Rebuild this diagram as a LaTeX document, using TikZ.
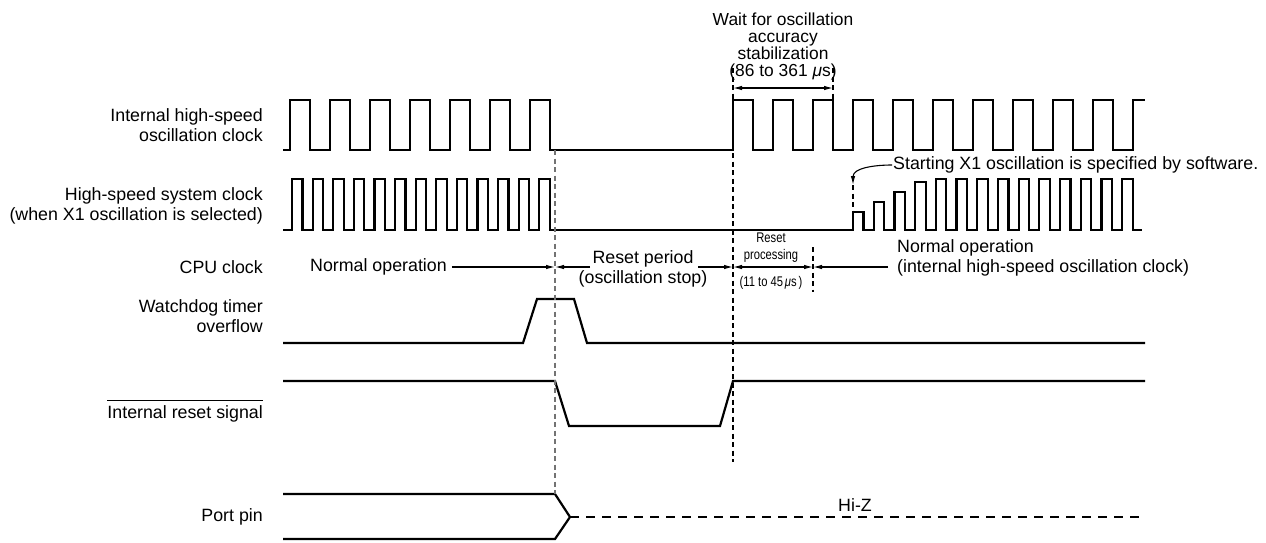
\documentclass[tikz,border=0pt]{standalone}
\usepackage{fontspec}
\setmainfont{Liberation Sans}
\usepackage{graphicx}
\usetikzlibrary{arrows.meta}

\begin{document}
\begin{tikzpicture}[
    x=1pt,
    y=-1pt,
    every node/.style={font=\fontsize{17.8}{20}\selectfont, inner sep=0pt},
    sigl/.style={anchor=east, align=right},
    small/.style={font=\fontsize{14}{17}\selectfont},
    wave/.style={draw=black, line width=2.2pt, line join=miter},
    guide/.style={draw=black, line width=1.2pt, dash pattern=on 5pt off 3.5pt},
    guidegray/.style={guide, draw=black!55},
    span/.style={draw=black, line width=1.1pt},
    tip/.style={-{Latex[length=9pt,width=4.5pt]}},
    twotip/.style={{Latex[length=9pt,width=4.5pt]}-{Latex[length=9pt,width=4.5pt]}}
  ]
    \useasboundingbox (0,0) rectangle (1266,542);

    \node[sigl] (lblint) at (263,125.5) {Internal high-speed\\oscillation clock};
    \node[sigl] (lblsys) at (263,206) {High-speed system clock\\(when X1 oscillation is selected)};
    \node[sigl] (lblcpu) at (263,267) {CPU clock};
    \node[sigl] (lblwdt) at (263,316) {Watchdog timer\\overflow};
    \node[sigl] (lblrst) at (263,414) {Internal reset signal};
    \node[sigl] (lblport) at (263,517) {Port pin};
    \draw[line width=1pt] ([yshift=5pt]lblrst.north west) -- ([yshift=5pt]lblrst.north east);

    \draw[wave] (283,150)
      \foreach \x in {290,330,...,530} { -- (\x,150) -- (\x,100) -- (\x+20,100) -- (\x+20,150) }
      -- (733,150)
      \foreach \x in {733,773,...,1093} { -- (\x,150) -- (\x,100) -- (\x+20,100) -- (\x+20,150) }
      -- (1133,150) -- (1133,100) -- (1145,100);

    \draw[wave] (283,230)
      \foreach \k in {0,...,12} { -- ({292+20.6*\k},230) -- ({292+20.6*\k},179) -- ({302.5+20.6*\k},179) -- ({302.5+20.6*\k},230) }
      -- (853,230)
      \foreach \k/\h in {0/212,1/202,2/192,3/182,4/179,5/179,6/179,7/179,8/179,9/179,10/179,11/179,12/179,13/179}
        { -- ({853+20.7*\k},230) -- ({853+20.7*\k},\h) -- ({863.5+20.7*\k},\h) -- ({863.5+20.7*\k},230) }
      -- (1142,230);

    \draw[wave] (283,343) -- (523,343) -- (537,299) -- (574,299) -- (587,343) -- (1145,343);
    \draw[wave] (283,381) -- (555,381) -- (569,426) -- (720,426) -- (733,381) -- (1145,381);
    \draw[wave] (283,494) -- (555,494) -- (570,517) -- (555,539) -- (283,539);
    \draw[wave, dash pattern=on 9pt off 7pt] (570,517) -- (1145,517);
    \node (hiz) at (855,505) {Hi-Z};

    \draw[guidegray] (555,150) -- (555,494);
    \draw[guide] (733,68) -- (733,462);
    \draw[guide] (833,68) -- (833,100);
    \draw[guide] (813,247) -- (813,292);

    \node[align=center, font=\fontsize{17.4}{16.8}\selectfont] (waitnote) at (783,46.5)
      {Wait for oscillation\\accuracy\\stabilization\\(86 to 361 \textit{μ}s)};
    \draw[span, twotip] (733,88) -- (833,88);

    \node[anchor=west] (x1note) at (893,165) {Starting X1 oscillation is specified by software.};
    \coordinate (x1start) at (853,185);
    \draw[span, tip] ([xshift=-1pt]x1note.west) to[out=180, in=90] (x1start);
    \draw[guide] (x1start) -- (853,212);

    \coordinate (tReset) at (555,267);
    \coordinate (tRelease) at (733,267);
    \coordinate (tProc) at (813,267);

    \node[anchor=west] (normleft) at (310,267) {Normal operation};
    \draw[span, tip] ([xshift=5pt]normleft.east) -- (tReset);

    \node[align=center] (rstperiod) at (643,269) {Reset period\\(oscillation stop)};
    \coordinate (rpL) at (590,267);
    \coordinate (rpR) at (698,267);
    \draw[span, tip] (rpL) -- (tReset);
    \draw[span, tip] (rpR) -- (tRelease);

    \node[small, align=center] (rstproc) at (771,248) {\scalebox{0.8}[1]{Reset}\\\scalebox{0.8}[1]{processing}};
    \node[small] (proctime) at (771,283) {\scalebox{0.8}[1]{(11 to 45\,\textit{μ}s\,)}};
    \draw[span, twotip] (tRelease) -- (tProc);

    \node[anchor=west, align=left] (normright) at (897,257.5) {Normal operation\\(internal high-speed oscillation clock)};
    \coordinate (npL) at (888,267);
    \draw[span, tip] (npL) -- (tProc);
  \end{tikzpicture}
\end{document}
